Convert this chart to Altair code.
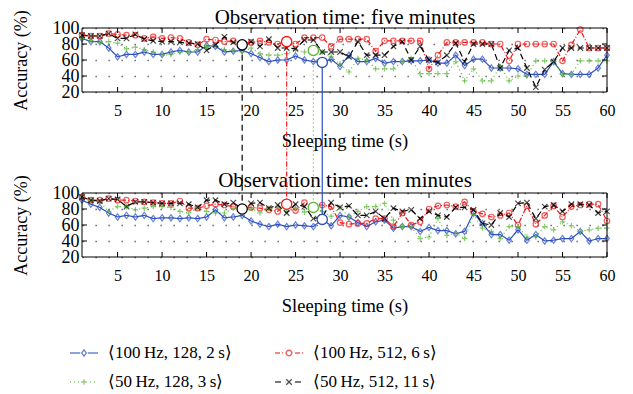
import altair as alt
import pandas as pd

# ---------------- data ----------------
sleep_time = list(range(1, 61))

series_names = ["⟨100\u2009Hz, 128, 2\u2009s⟩", "⟨100\u2009Hz, 512, 6\u2009s⟩",
                "⟨50\u2009Hz, 128, 3\u2009s⟩", "⟨50\u2009Hz, 512, 11\u2009s⟩"]
series_colors = ["#2c50c0", "#f01a1a", "#5cb83a", "#000000"]
series_dashes = [[1, 0], [5, 2, 1, 2], [1, 3], [6, 4]]

five_blue = [87, 83, 83, 75, 64, 67, 67, 70, 67, 67, 70, 72, 70, 70, 78, 77, 70, 71, 72, 68,
             63, 58, 60, 60, 65, 60, 58, 57, 61, 52, 66, 58, 58, 62, 56, 58, 58, 59, 59, 60,
             56, 56, 66, 53, 61, 61, 50, 50, 50, 49, 42, 42, 42, 58, 43, 42, 42, 42, 50, 66]
five_red = [91, 90, 90, 93, 92, 91, 91, 87, 89, 87, 88, 87, 82, 79, 86, 85, 83, 84, 81, 82,
            84, 82, 80, 83, 80, 88, 88, 88, 77, 86, 86, 86, 86, 71, 84, 84, 84, 84, 84, 49,
            66, 82, 82, 82, 82, 82, 80, 80, 59, 80, 80, 80, 80, 80, 59, 79, 98, 75, 75, 75]
five_green = [87, 84, 82, 83, 81, 74, 76, 73, 70, 66, 67, 70, 70, 73, 77, 77, 73, 72, 70, 75,
              68, 66, 66, 68, 73, 70, 72, 70, 64, 55, 45, 62, 60, 49, 49, 49, 58, 62, 43, 43,
              43, 43, 58, 34, 49, 34, 34, 52, 34, 40, 40, 59, 59, 59, 42, 42, 59, 59, 59, 59]
five_black = [91, 90, 90, 93, 87, 87, 92, 86, 84, 83, 83, 82, 81, 80, 72, 79, 89, 82, 79, 83,
              77, 86, 75, 75, 74, 85, 85, 70, 70, 70, 64, 83, 66, 66, 66, 77, 83, 60, 77, 60,
              57, 66, 81, 58, 80, 80, 80, 50, 72, 75, 50, 26, 48, 58, 75, 75, 75, 75, 75, 75]

ten_blue = [91, 86, 82, 75, 70, 72, 70, 72, 68, 69, 69, 68, 69, 68, 70, 79, 69, 70, 72, 65,
            61, 58, 61, 58, 60, 59, 58, 67, 59, 72, 70, 63, 58, 64, 66, 56, 58, 58, 52, 57,
            53, 53, 49, 52, 75, 62, 48, 48, 41, 54, 41, 48, 40, 41, 43, 43, 52, 40, 43, 43]
ten_red = [95, 91, 91, 93, 91, 91, 90, 89, 88, 87, 87, 90, 81, 81, 84, 86, 85, 83, 82, 82,
           81, 79, 77, 86, 78, 88, 85, 85, 83, 63, 61, 62, 62, 68, 68, 58, 75, 60, 64, 80,
           84, 85, 83, 89, 77, 74, 70, 72, 75, 60, 84, 61, 72, 84, 70, 83, 85, 86, 86, 65]
ten_green = [95, 91, 89, 77, 83, 83, 79, 81, 83, 83, 82, 77, 75, 81, 77, 75, 75, 81, 79, 81,
             75, 81, 82, 77, 81, 76, 82, 77, 71, 82, 70, 77, 83, 83, 87, 66, 58, 58, 43, 45,
             68, 47, 50, 43, 73, 56, 52, 43, 58, 58, 45, 45, 58, 54, 64, 59, 52, 54, 56, 56]
ten_black = [95, 91, 90, 93, 92, 83, 89, 89, 88, 87, 87, 87, 86, 82, 91, 91, 86, 88, 80, 87,
             88, 81, 85, 75, 86, 83, 68, 70, 88, 82, 84, 72, 72, 77, 68, 81, 77, 79, 68, 77,
             72, 70, 82, 82, 79, 62, 60, 75, 70, 87, 88, 68, 83, 85, 77, 86, 86, 85, 75, 77]

highlight_time = [28, 24, 27, 19]
highlight_five = [57, 83, 72, 79]
highlight_ten = [67, 86, 82, 80]

panel_titles = ["Observation time: five minutes", "Observation time: ten minutes"]
x_title = "Sleeping time (s)"
y_title = "Accuracy (%)"
x_ticks = list(range(5, 61, 5))
y_ticks = [20, 40, 60, 80, 100]
inner_y_ticks = [40, 60, 80]

# ---------------- style / layout ----------------
FONT = "Liberation Serif"
W = 525          # plot width
PH = 64          # height of one panel
GAP = 165        # top of second panel
H = GAP + PH
UNIT = PH / 80.0  # px per accuracy point
TICK = 5
DY = TICK / UNIT
DX = TICK / (W / 59.0)

MARK_SIZE = 30
LEG_SIZE = 784           # legend symbol box: 28 px
LEG_HALF = LEG_SIZE ** 0.5 / 2


def shape_paths(k):
    return [
        f"M0,{-1.15*k:.4f}L{0.85*k:.4f},0L0,{1.15*k:.4f}L{-0.85*k:.4f},0Z",
        f"M{k:.4f},0A{k:.4f},{k:.4f},0,1,1,{-k:.4f},0A{k:.4f},{k:.4f},0,1,1,{k:.4f},0Z",
        f"M{-k:.4f},0L{k:.4f},0M0,{-k:.4f}L0,{k:.4f}",
        f"M{-k:.4f},{-k:.4f}L{k:.4f},{k:.4f}M{-k:.4f},{k:.4f}L{k:.4f},{-k:.4f}",
    ]


def legend_symbol(pattern, marker):
    """Line piece with the series' dash pattern plus the marker, as one symbol path."""
    gap = MARK_SIZE ** 0.5 / 2 + 1.0
    segs = []
    if len(pattern) < 2 or pattern[1] == 0:
        pieces = [(-LEG_HALF, LEG_HALF)]
    else:
        pieces = []
        x, j = -LEG_HALF, 0
        while x < LEG_HALF:
            on, off = pattern[j % len(pattern)], pattern[(j + 1) % len(pattern)]
            pieces.append((x, min(x + on, LEG_HALF)))
            x += on + off
            j += 2
    for a, b in pieces:
        for s, e in ((a, min(b, -gap)), (max(a, gap), b)):
            if e - s > 0.2:
                segs.append(f"M{s / LEG_HALF:.4f},0L{e / LEG_HALF:.4f},0")
    return "".join(segs) + marker


data_shapes = shape_paths(1.0)
marker_small = shape_paths((MARK_SIZE / LEG_SIZE) ** 0.5)
legend_shapes = [legend_symbol(p, m) for p, m in zip(series_dashes, marker_small)]


def long_df(values):
    rows = []
    for name, vals in zip(series_names, values):
        for t, v in zip(sleep_time, vals):
            rows.append({"series": name, "t": t, "acc": v})
    return pd.DataFrame(rows)


five_df = long_df([five_blue, five_red, five_green, five_black])
ten_df = long_df([ten_blue, ten_red, ten_green, ten_black])
hl_df = pd.DataFrame({"series": series_names, "t": highlight_time,
                      "five": highlight_five, "ten": highlight_ten})
frame_df = pd.DataFrame({"x0": [1], "x1": [60], "y0": [20], "y1": [100]})
xt_df = pd.DataFrame([(t, e) for t in x_ticks for e in (0, 1)], columns=["t", "edge"])
yt_df = pd.DataFrame([(v, e) for v in inner_y_ticks for e in (0, 1)], columns=["v", "edge"])
names_df = pd.DataFrame({"series": series_names})


def xs():
    return alt.Scale(domain=[1, 60], nice=False, zero=False)


def ysc(key):
    rng = [PH, 0] if key == "five" else [H, GAP]
    return alt.Scale(domain=[20, 100], range=rng, nice=False, zero=False)


cs = alt.Scale(domain=series_names, range=series_colors)
ds = alt.Scale(domain=series_names, range=series_dashes)
ss = alt.Scale(domain=series_names, range=data_shapes)
ls = alt.Scale(domain=series_names, range=legend_shapes)


def x_axis(offset):
    return alt.Axis(orient="bottom", offset=offset, values=x_ticks, title=x_title, grid=False,
                    domain=False, ticks=False, tickSize=0, labelPadding=10,
                    labelFlush=False, format="d", labelFont=FONT, labelFontSize=16,
                    labelColor="black", titleFont=FONT, titleFontSize=18.5,
                    titleFontWeight="normal", titleColor="black", titlePadding=13)


def y_axis():
    return alt.Axis(orient="left", values=y_ticks, title=y_title, grid=True, gridColor="#555",
                    gridDash=[1.3, 11.7], gridWidth=1.3, domain=False, ticks=False, tickSize=0,
                    labelPadding=3, labelOverlap=False, labelFlush=False, labelFont=FONT,
                    labelFontSize=18, labelColor="black", titleFont=FONT, titleFontSize=18,
                    titleFontWeight="normal", titleColor="black", titlePadding=22)


def title_axis(text, offset, pad):
    return alt.Axis(orient="top", offset=offset, title=text, labels=False, ticks=False,
                    domain=False, grid=False, titleFont=FONT, titleFontSize=21,
                    titleFontWeight="normal", titleColor="black", titlePadding=pad)


key_legend = alt.Legend(title=None, orient="none", legendX=-13, legendY=310, columns=2,
                        direction="horizontal", columnPadding=40, rowPadding=6,
                        symbolSize=LEG_SIZE, symbolStrokeWidth=1.3,
                        labelFont=FONT, labelFontSize=17, labelColor="black",
                        labelOffset=9, labelLimit=400, padding=0)


def panel(df, key, title):
    ysc_ = ysc(key)
    if key == "five":
        xa = x_axis(PH - H)
        ta = title_axis(title, 0, 1)
    else:
        xa = x_axis(0)
        ta = title_axis(title, -GAP, 3)
    lines = alt.Chart(df).mark_line(strokeWidth=1.2).encode(
        x=alt.X("t:Q", scale=xs(), axis=xa),
        y=alt.Y("acc:Q", scale=ysc_, axis=y_axis()),
        color=alt.Color("series:N", scale=cs, legend=None),
        strokeDash=alt.StrokeDash("series:N", scale=ds, legend=None),
    )
    points = alt.Chart(df).mark_point(filled=False, size=MARK_SIZE, strokeWidth=1.2).encode(
        x=alt.X("t:Q", scale=xs(), axis=None),
        y=alt.Y("acc:Q", scale=ysc_, axis=None),
        color=alt.Color("series:N", scale=cs, legend=None),
        shape=alt.Shape("series:N", scale=ss, legend=None),
    )
    frame = alt.Chart(frame_df).mark_rect(filled=False, stroke="black", strokeWidth=1).encode(
        x=alt.X("x0:Q", scale=xs(), axis=ta),
        x2="x1:Q",
        y=alt.Y("y0:Q", scale=ysc_, axis=None),
        y2="y1:Q",
    )
    xt = alt.Chart(xt_df).transform_calculate(
        y0="datum.edge ? 100 : 20", y1=f"datum.edge ? 100 - {DY} : 20 + {DY}"
    ).mark_rule(color="black", strokeWidth=1).encode(
        x=alt.X("t:Q", scale=xs(), axis=None),
        y=alt.Y("y0:Q", scale=ysc_, axis=None),
        y2="y1:Q",
    )
    yt = alt.Chart(yt_df).transform_calculate(
        x0="datum.edge ? 60 : 1", x1=f"datum.edge ? 60 - {DX} : 1 + {DX}"
    ).mark_rule(color="black", strokeWidth=1).encode(
        x=alt.X("x0:Q", scale=xs(), axis=None),
        x2="x1:Q",
        y=alt.Y("v:Q", scale=ysc_, axis=None),
    )
    return [lines, points, frame, xt, yt]


def highlight(key):
    return alt.Chart(hl_df).mark_point(shape="circle", size=105, strokeWidth=1.3, filled=False,
                                       fill="white", fillOpacity=1).encode(
        x=alt.X("t:Q", scale=xs(), axis=None),
        y=alt.Y(f"{key}:Q", scale=ysc(key), axis=None),
        color=alt.Color("series:N", scale=cs, legend=None),
    )


connect = alt.Chart(hl_df).transform_calculate(
    ten_u=f"datum.ten - {GAP / UNIT}"
).mark_rule(strokeWidth=1.2).encode(
    x=alt.X("t:Q", scale=xs(), axis=None),
    y=alt.Y("five:Q", scale=ysc("five"), axis=None),
    y2="ten_u:Q",
    color=alt.Color("series:N", scale=cs, legend=None),
    strokeDash=alt.StrokeDash("series:N", scale=ds, legend=None),
)

# legend-only layer: draws no marks, supplies the legend (line piece + marker symbols)
legend_key = alt.Chart(names_df).transform_filter("false").mark_point(
    filled=False, strokeWidth=1.3
).encode(
    color=alt.Color("series:N", scale=cs, legend=key_legend),
    shape=alt.Shape("series:N", scale=ls, legend=key_legend),
)

layers = (panel(five_df, "five", panel_titles[0])
          + panel(ten_df, "ten", panel_titles[1])
          + [connect, highlight("five"), highlight("ten"), legend_key])

chart = alt.layer(*layers).resolve_scale(
    x="independent", y="independent", color="independent",
    strokeDash="independent", shape="independent"
).properties(
    width=W, height=H,
    autosize=alt.AutoSizeParams(type="none"),
    padding={"left": 74, "top": 20, "right": 18, "bottom": 138},
).configure_view(stroke=None)

chart.save("out.html", embed_options={"renderer": "svg", "actions": False})
